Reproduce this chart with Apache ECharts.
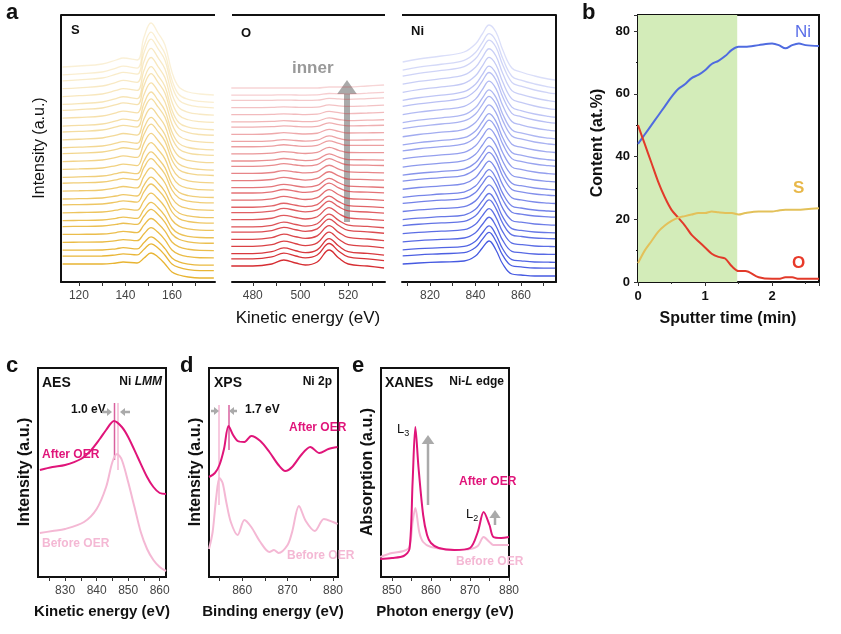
<!DOCTYPE html>
<html>
<head>
<meta charset="utf-8">
<script src="https://cdn.jsdelivr.net/npm/echarts@6/dist/echarts.min.js"></script>
<style>html,body{margin:0;background:#fff}#chart{width:841px;height:634px}</style>
</head>
<body>
<div id="chart"></div>
<script>
// ---- panel a: stacked AES depth profiles (profile shapes, px above baseline) ----
var sEnergy = [113, 120, 130, 136, 139, 145, 148, 151, 154, 157, 160, 163, 167, 172, 178];
var sBottom = [0, 0, 0, 1, 2, 1, 6, 11, 7, 0, -8, -11, -13, -14, -14];
var sTop = [0, 1, 3, 7, 9, 7, 30, 44, 34, 22, -5, -20, -25, -27, -28];
var oEnergy = [471, 480, 488, 493, 498, 502, 507, 512, 516, 520, 528, 535];
var oBottom = [0, 0, 2, 6, 3, 1, 4, 16, 8, 2, 0, -2];
var oTop = [0, 0, 0, 0, 0, 0, 0, 1, 1, 1, 2, 3];
var niEnergy = [808, 815, 825, 835, 840, 843, 846, 849, 852, 856, 860, 866, 872, 875];
var niBottom = [0, 1, 2, 3, 8, 16, 23, 14, 0, -10, -11, -12, -12, -12];
var niTop = [0, 3, 6, 10, 18, 28, 37, 30, 12, -6, -10, -14, -17, -18];
var traceWeights = [0, 0.04, 0.07, 0.11, 0.15, 0.19, 0.22, 0.26, 0.3, 0.33, 0.37, 0.41, 0.44, 0.48,
  0.52, 0.56, 0.59, 0.63, 0.67, 0.7, 0.74, 0.78, 0.81, 0.85, 0.89, 0.93, 0.96, 1];
var sTicks = [120, 140, 160], sMinor = [130, 150, 170];
var oTicks = [480, 500, 520], oMinor = [490, 510, 530];
var niTicks = [820, 840, 860], niMinor = [810, 830, 850, 870];

// ---- panel b: sputter depth profile ----
var sputterTime = [0, 0.1, 0.2, 0.3, 0.4, 0.5, 0.6, 0.7, 0.8, 0.9, 1.0, 1.1, 1.2, 1.3, 1.4, 1.5, 1.6, 1.8, 2.0, 2.1, 2.2, 2.3, 2.4, 2.5, 2.7];
var niContent = [44, 47, 50, 53, 56, 59, 61.5, 63, 65, 66, 67.5, 69.5, 70.5, 72, 74, 75, 75, 75.5, 76, 75.5, 74.5, 75.5, 76, 75.5, 75.2];
var oContent = [50, 44, 38, 32, 27, 23, 20.5, 18, 15, 13, 11, 9, 8, 7.5, 5, 3.5, 3.5, 1.5, 1, 1, 1.5, 1.5, 1, 1, 1];
var sContent = [6, 10, 13, 16, 18, 19.5, 20.5, 21, 21.5, 22, 22, 22.5, 22.2, 22, 22, 21.5, 22, 22.5, 22.5, 22.8, 23, 23, 23, 23.2, 23.5];

// ---- panel c: AES Ni LMM ----
var aesAfter = [[822, 107], [826, 110], [830, 112], [835, 118], [838, 126], [841, 138], [843, 147], [845.5, 156], [848, 150], [850, 140], [853, 120], [856, 100], [858, 90], [860, 84], [862, 83]];
var aesBefore = [[822, 44], [826, 46], [830, 48], [836, 55], [840, 68], [843, 90], [845, 115], [846.5, 123], [848, 117], [850, 95], [852, 70], [854, 45], [856, 28], [858, 17], [860, 10], [862, 6]];
var aesTicks = [830, 840, 850, 860], aesMinor = [825, 835, 845, 855];
// ---- panel d: XPS Ni 2p ----
var xpsAfter = [[852.7, 100], [854, 104], [855, 112], [856, 128], [857, 151], [858, 142], [859, 136], [860.5, 135], [862, 141], [864, 136], [866, 125], [868, 112], [869.5, 106], [871, 110], [873, 122], [875, 130], [877, 124], [879, 128], [881, 130]];
var xpsBefore = [[852.7, 28], [853.5, 45], [854.3, 80], [855, 99], [855.7, 94], [856.5, 75], [857.5, 55], [859, 42], [860.5, 57], [862, 50], [864, 35], [866, 25], [867, 27], [868, 24], [870, 32], [871, 45], [872.5, 71], [874, 56], [876, 46], [878, 58], [880, 55], [881, 53]];
var xpsTicks = [860, 870, 880], xpsMinor = [855, 865, 875];
// ---- panel e: XANES Ni-L edge ----
var xanesAfter = [[847, 18], [850, 19], [853, 21], [854.5, 28], [855.3, 95], [856, 150], [856.8, 110], [858, 62], [859, 42], [860, 34], [862, 29], [866, 27], [870, 29], [872, 45], [873.5, 65], [875, 52], [876, 40], [878, 39], [880, 40]];
var xanesBefore = [[847, 20], [850, 24], [853, 26], [854.5, 30], [855.3, 55], [856, 69], [857, 45], [858, 35], [860, 30], [866, 27], [870, 28], [872, 31], [873.5, 40], [875, 35], [876, 32], [880, 32]];
var xanesTicks = [850, 860, 870, 880], xanesMinor = [855, 865, 875];

var AFTER = '#e0157a', BEFORE = '#f4b8d4';
var FONT = 'Liberation Sans';

var grids = [
  { left: 61, top: 15, width: 154, height: 267 },
  { left: 232, top: 15, width: 153, height: 267 },
  { left: 402, top: 15, width: 154, height: 267 },
  { left: 638, top: 15, width: 181, height: 267, show: true, borderColor: '#111', borderWidth: 2 },
  { left: 38, top: 368, width: 128, height: 209, show: true, borderColor: '#111', borderWidth: 2 },
  { left: 209, top: 368, width: 129, height: 209, show: true, borderColor: '#111', borderWidth: 2 },
  { left: 381, top: 368, width: 128, height: 209, show: true, borderColor: '#111', borderWidth: 2 }
];

function xAx(i, min, max, ticks, minor) {
  return {
    gridIndex: i, type: 'value', min: min, max: max,
    axisLine: { show: true, onZero: false, lineStyle: { color: '#111', width: 2 } },
    axisTick: { show: true, length: 4, customValues: ticks.concat(minor), lineStyle: { color: '#333' } },
    splitLine: { show: false },
    axisLabel: { color: '#444', fontFamily: FONT, fontSize: 12, customValues: ticks }
  };
}
function yAx(i, min, max, extra) {
  return Object.assign({
    gridIndex: i, type: 'value', min: min, max: max,
    axisLine: { show: false }, axisTick: { show: false }, axisLabel: { show: false }, splitLine: { show: false }
  }, extra || {});
}

var xAxes = [
  xAx(0, 112.3, 178.5, sTicks, sMinor), xAx(1, 471.3, 535.4, oTicks, oMinor), xAx(2, 807.7, 875.4, niTicks, niMinor),
  {
    gridIndex: 3, type: 'value', min: 0, max: 2.7, interval: 1,
    axisLine: { show: true, onZero: false, lineStyle: { color: '#111', width: 2 } },
    axisTick: { show: true, length: 4, lineStyle: { color: '#333' } },
    minorTick: { show: true, splitNumber: 2, length: 2, lineStyle: { color: '#333' } },
    splitLine: { show: false },
    axisLabel: { color: '#111', fontFamily: FONT, fontSize: 13, fontWeight: 'bold', showMaxLabel: false }
  },
  xAx(4, 821.4, 862, aesTicks, aesMinor), xAx(5, 852.7, 881.1, xpsTicks, xpsMinor), xAx(6, 847.2, 880, xanesTicks, xanesMinor)
];

var yAxes = [
  yAx(0, 0, 267, { axisLine: { show: true, lineStyle: { color: '#111', width: 2 } } }),
  yAx(1, 0, 267),
  yAx(2, 0, 267, { position: 'right', axisLine: { show: true, lineStyle: { color: '#111', width: 2 } } }),
  yAx(3, 0, 85.1, {
    interval: 20,
    axisLine: { show: true, lineStyle: { color: '#111', width: 2 } },
    axisTick: { show: true, length: 4, lineStyle: { color: '#333' } },
    minorTick: { show: true, splitNumber: 2, length: 2 },
    axisLabel: { show: true, color: '#111', fontFamily: FONT, fontSize: 13, fontWeight: 'bold', showMaxLabel: false }
  }),
  yAx(4, 0, 209), yAx(5, 0, 209), yAx(6, 0, 209)
];

var series = [];
function stack(grid, energy, bottom, top, baseB, baseT, rgb) {
  traceWeights.forEach(function (w) {
    var base = baseB + (baseT - baseB) * w;
    var pts = energy.map(function (e, k) { return [e, base + bottom[k] * (1 - w) + top[k] * w]; });
    series.push({
      type: 'line', xAxisIndex: grid, yAxisIndex: grid, data: pts, smooth: 0.4, symbol: 'none',
      lineStyle: { width: 1.3, color: 'rgba(' + rgb + ',' + (1 - 0.8 * w).toFixed(2) + ')' }, silent: true
    });
  });
}
stack(0, sEnergy, sBottom, sTop, 18, 215, '232,180,50');
stack(1, oEnergy, oBottom, oTop, 16, 194, '214,45,50');
stack(2, niEnergy, niBottom, niTop, 18, 220, '70,90,225');

series.push({ type: 'line', xAxisIndex: 3, yAxisIndex: 3, data: [], symbol: 'none',
  markArea: { silent: true, itemStyle: { color: '#d3ecb9' }, data: [[{ xAxis: 0 }, { xAxis: 1.48 }]] } });
[[niContent, '#4f6be0'], [oContent, '#e23a2a'], [sContent, '#e3c15a']].forEach(function (s) {
  series.push({ type: 'line', xAxisIndex: 3, yAxisIndex: 3, symbol: 'none', smooth: 0.3,
    data: sputterTime.map(function (t, k) { return [t, s[0][k]]; }), lineStyle: { width: 2, color: s[1] } });
});

function pair(grid, after, before, sm) {
  series.push({ type: 'line', xAxisIndex: grid, yAxisIndex: grid, data: before, smooth: sm, symbol: 'none', lineStyle: { width: 2, color: BEFORE } });
  series.push({ type: 'line', xAxisIndex: grid, yAxisIndex: grid, data: after, smooth: sm, symbol: 'none', lineStyle: { width: 2, color: AFTER } });
}
pair(4, aesAfter, aesBefore, 0.3);
pair(5, xpsAfter, xpsBefore, 0.3);
pair(6, xanesAfter, xanesBefore, 0.3);

function txt(x, y, t, o) {
  return { type: 'text', x: x, y: y, style: Object.assign({ text: t, fontFamily: FONT, fontSize: 14, fontWeight: 'bold', fill: '#111' }, o || {}) };
}
function rot(x, y, t, o) {
  var e = txt(x, y, t, Object.assign({ align: 'center', verticalAlign: 'middle', fontSize: 15 }, o || {}));
  e.rotation = Math.PI / 2;
  return e;
}
function line(x1, y1, x2, y2, color, w) {
  return { type: 'line', shape: { x1: x1, y1: y1, x2: x2, y2: y2 }, style: { stroke: color, lineWidth: w || 1 } };
}
function arrowH(x1, x2, y) { // small gray horizontal arrow toward x2
  var d = x2 > x1 ? 1 : -1;
  return [line(x1, y, x2 - 3 * d, y, '#aaa', 2.5),
    { type: 'polygon', shape: { points: [[x2, y], [x2 - 5 * d, y - 4], [x2 - 5 * d, y + 4]] }, style: { fill: '#aaa' } }];
}
function arrowV(x, y1, y2, w, head) { // upward arrow
  return [line(x, y1, x, y2 + head, '#aaa', w),
    { type: 'polygon', shape: { points: [[x, y2], [x - head * 0.7, y2 + head], [x + head * 0.7, y2 + head]] }, style: { fill: '#aaa' } }];
}

var graphics = [
  // panel a frame tops
  line(61, 15, 215, 15, '#111', 2), line(232, 15, 385, 15, '#111', 2), line(402, 15, 556, 15, '#111', 2),
  txt(6, 2, 'a', { fontSize: 22 }), txt(582, 2, 'b', { fontSize: 22 }),
  txt(6, 355, 'c', { fontSize: 22 }), txt(180, 355, 'd', { fontSize: 22 }), txt(352, 355, 'e', { fontSize: 22 }),
  txt(71, 24, 'S', { fontSize: 13 }), txt(241, 27, 'O', { fontSize: 13 }), txt(411, 25, 'Ni', { fontSize: 13 }),
  txt(292, 60, 'inner', { fill: '#999', fontSize: 17 }),
  rot(40, 148, 'Intensity (a.u.)', { fontWeight: 'normal', fontSize: 16 }),
  txt(308, 318, 'Kinetic energy (eV)', { align: 'center', verticalAlign: 'middle', fontWeight: 'normal', fontSize: 17 }),
  // panel b
  txt(654, 26, 'oxysulfide', { fill: '#6aaa2a', fontSize: 14 }),
  txt(795, 24, 'Ni', { fill: '#5a6ee8', fontSize: 17, fontWeight: 'normal' }),
  txt(793, 180, 'S', { fill: '#e8b84a', fontSize: 17 }),
  txt(792, 255, 'O', { fill: '#e83a2a', fontSize: 17 }),
  rot(598, 143, 'Content (at.%)', { fontSize: 16 }),
  txt(728, 319, 'Sputter time (min)', { align: 'center', verticalAlign: 'middle', fontSize: 16 }),
  // panel c
  txt(42, 376, 'AES', { fontSize: 14 }),
  txt(162, 376, '{n|Ni }{i|LMM}', { align: 'right', rich: { n: { fontFamily: FONT, fontSize: 12, fontWeight: 'bold' }, i: { fontFamily: FONT, fontSize: 12, fontWeight: 'bold', fontStyle: 'italic' } } }),
  txt(71, 404, '1.0 eV', { fontSize: 12 }),
  line(114.5, 403, 114.5, 460, '#d9609f', 1.5), line(118, 403, 118, 470, '#f4b8d4', 1.5),
  txt(42, 449, 'After OER', { fill: AFTER, fontSize: 12 }),
  txt(42, 538, 'Before OER', { fill: BEFORE, fontSize: 12 }),
  rot(25, 472, 'Intensity (a.u.)', { fontSize: 16 }),
  txt(102, 612, 'Kinetic energy (eV)', { align: 'center', verticalAlign: 'middle', fontSize: 15 }),
  // panel d
  txt(214, 376, 'XPS', { fontSize: 14 }),
  txt(332, 376, 'Ni 2p', { align: 'right', fontSize: 12 }),
  txt(245, 404, '1.7 eV', { fontSize: 12 }),
  line(219, 405, 219, 505, '#f4b8d4', 1.5), line(229, 405, 229, 450, '#d9609f', 1.5),
  txt(289, 422, 'After OER', { fill: AFTER, fontSize: 12 }),
  txt(287, 550, 'Before OER', { fill: BEFORE, fontSize: 12 }),
  rot(196, 472, 'Intensity (a.u.)', { fontSize: 16 }),
  txt(273, 612, 'Binding energy (eV)', { align: 'center', verticalAlign: 'middle', fontSize: 15 }),
  // panel e
  txt(385, 376, 'XANES', { fontSize: 14 }),
  txt(504, 376, '{n|Ni-}{i|L}{n| edge}', { align: 'right', rich: { n: { fontFamily: FONT, fontSize: 12, fontWeight: 'bold' }, i: { fontFamily: FONT, fontSize: 12, fontWeight: 'bold', fontStyle: 'italic' } } }),
  txt(397, 421, '{a|L}{s|3}', { rich: { a: { fontFamily: FONT, fontSize: 13 }, s: { fontFamily: FONT, fontSize: 9, verticalAlign: 'bottom', padding: [8, 0, 0, 0] } } }),
  txt(466, 506, '{a|L}{s|2}', { rich: { a: { fontFamily: FONT, fontSize: 13 }, s: { fontFamily: FONT, fontSize: 9, verticalAlign: 'bottom', padding: [8, 0, 0, 0] } } }),
  txt(459, 476, 'After OER', { fill: AFTER, fontSize: 12 }),
  txt(456, 556, 'Before OER', { fill: BEFORE, fontSize: 12 }),
  rot(368, 472, 'Absorption (a.u.)', { fontSize: 16 }),
  txt(445, 612, 'Photon energy (eV)', { align: 'center', verticalAlign: 'middle', fontSize: 15 })
];
graphics = graphics.concat(arrowV(347, 222, 80, 6, 14));
graphics = graphics.concat(arrowH(102, 112, 412), arrowH(130, 120, 412));
graphics = graphics.concat(arrowH(211, 219, 411), arrowH(237, 229, 411));
graphics = graphics.concat(arrowV(428, 505, 435, 2.5, 9), arrowV(495, 525, 510, 2.5, 8));

var chart = echarts.init(document.getElementById('chart'));
chart.setOption({
  animation: false,
  backgroundColor: '#fff',
  grid: grids,
  xAxis: xAxes,
  yAxis: yAxes,
  series: series,
  graphic: graphics
});
</script>
</body>
</html>
